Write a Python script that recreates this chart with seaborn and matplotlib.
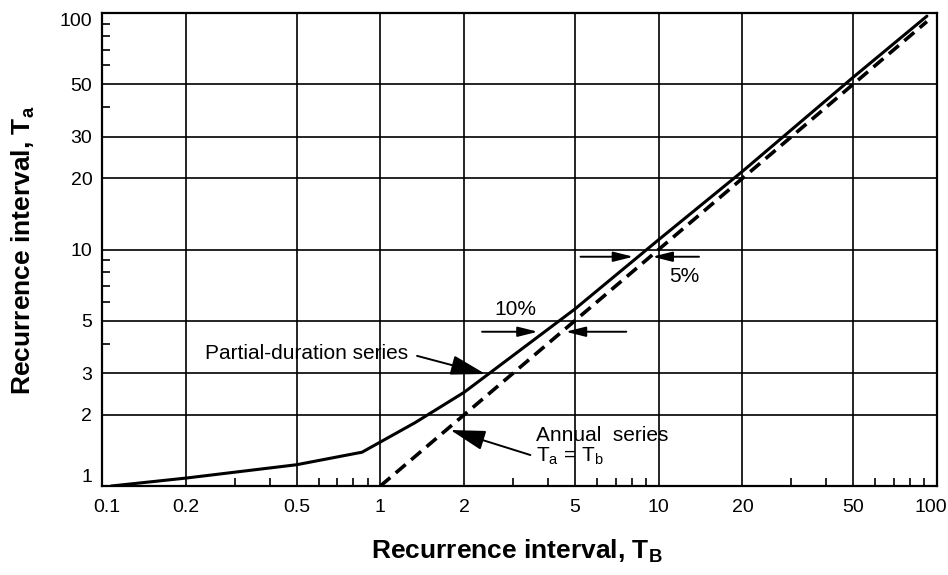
import matplotlib
matplotlib.use("Agg")
import matplotlib.pyplot as plt
import matplotlib.transforms as mtransforms
import seaborn as sns

# Partial-duration series
partial_tb = [0.108, 0.2, 0.5, 0.86, 1.33, 2, 5, 10, 20, 50, 92]
partial_ta = [1.0, 1.08, 1.23, 1.39, 1.85, 2.49, 5.6, 11.0, 21.4, 53.5, 97]

# Annual series, Ta = Tb
annual_tb = [1, 92]
annual_ta = [1, 92]

x_ticks = [0.1, 0.2, 0.5, 1, 2, 5, 10, 20, 50, 100]
x_ticklabels = ["0.1", "0.2", "0.5", "1", "2", "5", "10", "20", "50", "100"]
x_minor = [0.3, 0.4, 0.6, 0.7, 0.8, 0.9, 3, 4, 6, 7, 8, 9, 30, 40, 60, 70, 80, 90]
y_ticks = [1, 2, 3, 5, 10, 20, 30, 50, 100]
y_ticklabels = ["1", "2", "3", "5", "10", "20", "30", "50", "100"]
y_minor = [4, 6, 7, 8, 9, 40, 60, 70, 80, 90]

sns.set_style("white")
plt.rcParams["font.family"] = ["Liberation Sans", "DejaVu Sans"]
plt.rcParams["mathtext.fontset"] = "custom"
plt.rcParams["mathtext.rm"] = "Liberation Sans"
plt.rcParams["mathtext.it"] = "Liberation Sans:italic"
plt.rcParams["mathtext.bf"] = "Liberation Sans:bold"
plt.rcParams["text.color"] = "black"

fig = plt.figure(figsize=(9.48, 5.75), dpi=100)
ax = fig.add_axes([102 / 948, 1 - 486 / 575, 835 / 948, 473 / 575])

sns.lineplot(x=partial_tb, y=partial_ta, ax=ax, color="black", lw=2.2, sort=False)
sns.lineplot(x=annual_tb, y=annual_ta, ax=ax, color="black", lw=2.6, sort=False)
ax.lines[-1].set_dashes((3.6, 2.0))
ax.lines[-1].set_dash_capstyle("butt")

ax.set_xscale("log")
ax.set_yscale("log")
ax.set_xlim(0.1, 100)
ax.set_ylim(1, 100)

ax.set_xticks(x_ticks)
ax.set_xticklabels(x_ticklabels)
ax.set_xticks(x_minor, minor=True)
ax.set_xticklabels([], minor=True)
ax.set_yticks(y_ticks)
ax.set_yticklabels(y_ticklabels)
ax.set_yticks(y_minor, minor=True)
ax.set_yticklabels([], minor=True)

ax.tick_params(which="both", bottom=True, left=True, top=False, right=False)
ax.tick_params(which="major", length=0, labelsize=14, pad=7, colors="black")
ax.tick_params(which="minor", direction="in", length=5.5, width=1.2, color="black")
ax.tick_params(axis="x", which="major", pad=9)

# keep end labels inside the frame like the original
ylabs = ax.get_yticklabels()
ylabs[0].set_va("bottom")
ylabs[-1].set_va("top")
xlabs = ax.get_xticklabels()
xlabs[0].set_transform(xlabs[0].get_transform() +
                       mtransforms.ScaledTranslation(5 / 100, 0, fig.dpi_scale_trans))
xlabs[-1].set_transform(xlabs[-1].get_transform() +
                        mtransforms.ScaledTranslation(-6 / 100, 0, fig.dpi_scale_trans))

ax.grid(which="major", color="black", lw=1.2)
for sp in ax.spines.values():
    sp.set_color("black")
    sp.set_linewidth(1.6)

fig.text(23 / 948, 1 - 250 / 575, r"Recurrence interval, $\mathbf{T_a}$", rotation=90,
         fontsize=19, fontweight="bold", ha="center", va="center")
fig.text(517 / 948, 1 - 551 / 575, r"Recurrence interval, $\mathbf{T_B}$",
         fontsize=19, fontweight="bold", ha="center", va="center")

big_arrow = dict(arrowstyle="-|>,head_length=0.6,head_width=0.17", mutation_scale=36,
                 color="black", lw=1.4, shrinkA=0, shrinkB=0)
small_arrow = dict(arrowstyle="-|>,head_length=0.6,head_width=0.15", mutation_scale=20,
                   color="black", lw=1.4, shrinkA=0, shrinkB=0)

# Partial-duration label
ax.text(0.544, 3.65, "Partial-duration series", fontsize=15, ha="center", va="center")
ax.annotate("", xy=(2.386, 2.976), xytext=(1.355, 3.55), arrowprops=big_arrow)

# Annual series label
ax.text(3.61, 1.64, "Annual  series", fontsize=15, ha="left", va="center")
ax.text(3.61, 1.33, r"T$_\mathrm{a}$ = T$_\mathrm{b}$", fontsize=15, ha="left", va="center")
ax.annotate("", xy=(1.786, 1.725), xytext=(3.46, 1.352), arrowprops=big_arrow)

# 10% marker
ax.text(3.06, 5.55, "10%", fontsize=15, ha="center", va="center")
ax.annotate("", xy=(3.68, 4.49), xytext=(2.32, 4.49), arrowprops=small_arrow)
ax.annotate("", xy=(4.63, 4.49), xytext=(7.65, 4.49), arrowprops=small_arrow)

# 5% marker
ax.text(12.4, 7.67, "5%", fontsize=15, ha="center", va="center")
ax.annotate("", xy=(8.11, 9.32), xytext=(5.24, 9.32), arrowprops=small_arrow)
ax.annotate("", xy=(9.49, 9.32), xytext=(13.96, 9.32), arrowprops=small_arrow)

fig.savefig("out.png", dpi=100)
